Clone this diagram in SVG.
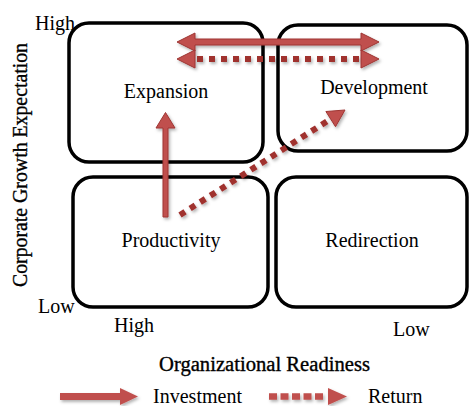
<svg xmlns="http://www.w3.org/2000/svg" width="470" height="406" viewBox="0 0 470 406" font-family="'Liberation Serif', 'Times New Roman', 'DejaVu Serif', serif">
  <defs>
    <filter id="shadow" x="-20%" y="-20%" width="140%" height="160%">
      <feDropShadow dx="1.5" dy="2" stdDeviation="1.5" flood-color="#000" flood-opacity="0.3"/>
    </filter>
  </defs>
  <style>
    .box { fill: #fff; stroke: #000; stroke-width: 3.5; }
    .lbl { font-family: 'Liberation Serif', 'Times New Roman', 'DejaVu Serif', serif; font-size: 20px; fill: #000; }
    .mid { text-anchor: middle; }
    .axis { stroke: #000; stroke-width: 0.35; }
    .solid { fill: #c0504d; stroke: #9e3533; stroke-width: 1; stroke-linejoin: miter; }
    .head { fill: #c0504d; stroke: #9e3533; stroke-width: 1; }
    .dots { fill: none; stroke: #a0302e; stroke-width: 6; stroke-dasharray: 6 6; }
  </style>
  <rect width="470" height="406" fill="#fff"/>

  <!-- quadrants -->
  <g id="expansion">
    <rect class="box" x="69" y="23" width="194" height="139" rx="20"/>
    <text class="lbl mid" x="166" y="98">Expansion</text>
  </g>
  <g id="development">
    <rect class="box" x="278" y="25" width="189" height="126" rx="20"/>
    <text class="lbl mid" x="374" y="94">Development</text>
  </g>
  <g id="productivity">
    <rect class="box" x="73" y="177" width="195" height="130" rx="20"/>
    <text class="lbl mid" x="171" y="247">Productivity</text>
  </g>
  <g id="redirection">
    <rect class="box" x="276" y="177" width="191" height="130" rx="20"/>
    <text class="lbl mid" x="372" y="247">Redirection</text>
  </g>

  <!-- axes -->
  <g id="axes">
    <text class="lbl" x="35" y="30">High</text>
    <text class="lbl" x="38" y="313">Low</text>
    <text class="lbl" x="114" y="332">High</text>
    <text class="lbl" x="393" y="336">Low</text>
    <text class="lbl mid axis" x="264.5" y="371" textLength="211" lengthAdjust="spacingAndGlyphs">Organizational Readiness</text>
    <text class="lbl mid axis" transform="translate(27 165) rotate(-90)" textLength="244" lengthAdjust="spacingAndGlyphs">Corporate Growth Expectation</text>
  </g>

  <!-- connectors -->
  <g id="connectors" filter="url(#shadow)">
    <!-- investment between Expansion and Development -->
    <polygon class="solid" points="177,42 195,33 195,39 361,39 361,33 379,42 361,51 361,45 195,45 195,51"/>
    <!-- return between Expansion and Development -->
    <line class="dots" x1="197" y1="59" x2="359" y2="59"/>
    <polygon class="head" points="177,59 195,50 195,68"/>
    <polygon class="head" points="379,59 361,50 361,68"/>
    <!-- investment Productivity to Expansion -->
    <polygon class="solid" points="163,217 163,128 156,128 165.5,112.5 175,128 168,128 168,217"/>
    <!-- return Productivity to Development -->
    <line class="dots" x1="180" y1="215" x2="329" y2="120" stroke-width="5.5" stroke-dasharray="5 6"/>
    <polygon class="head" points="345,110 325.9,111.5 335.5,126.7"/>
  </g>

  <!-- legend -->
  <g id="legend">
    <g filter="url(#shadow)">
      <polygon fill="#c0504d" points="60,393 120,393 120,388 138,396.5 120,405 120,400 60,400"/>
      <line x1="269" y1="396.5" x2="326" y2="396.5" stroke="#c0504d" stroke-width="6.5" stroke-dasharray="8 3.5"/>
      <polygon fill="#c0504d" points="328,388 347,396.5 328,405"/>
    </g>
    <text class="lbl" x="153" y="403" textLength="89" lengthAdjust="spacingAndGlyphs">Investment</text>
    <text class="lbl" x="368" y="403">Return</text>
  </g>
</svg>
